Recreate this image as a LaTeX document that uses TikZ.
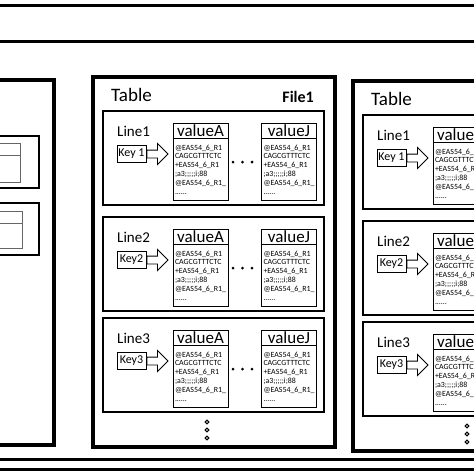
\documentclass[tikz,border=0pt]{standalone}
\usepackage{fontspec}
\setmainfont{Carlito}
\usetikzlibrary{shapes.arrows,positioning,calc}

\newcommand\seqtext{@EAS54\_6\_R1\\CAGCGTTTCTC\\+EAS54\_6\_R1\\;a3;;;;;i;88\\@EAS54\_6\_R1\_\\......}

\tikzset{
  panelbox/.style={draw, line width=3.4pt},
  linebox/.style={draw, line width=2.9pt},
  rulebar/.style={line width=3pt},
  titletext/.style={inner sep=0pt, font=\fontsize{19}{22}\selectfont},
  filetext/.style={inner sep=0pt, font=\fontsize{16}{19}\selectfont\bfseries},
  linelabel/.style={inner sep=0pt, font=\fontsize{15}{18}\selectfont},
  keybox/.style={draw, line width=0.9pt, minimum width=29pt, minimum height=17pt, inner sep=0pt, font=\fontsize{12}{14}\selectfont},
  blockarrow/.style={single arrow, draw, line width=0.9pt, minimum height=21pt, inner sep=3.5pt, single arrow head extend=6.5pt, anchor=west},
  headcell/.style={draw, line width=0.7pt, minimum width=55pt, minimum height=15pt, inner sep=0pt, font=\fontsize{17}{19}\selectfont},
  bodycell/.style={draw, line width=0.7pt, anchor=north, minimum width=55pt, minimum height=62pt, inner xsep=2pt, inner ysep=1pt, text width=51pt, align=left, font=\fontsize{7.9}{8.9}\selectfont},
  thintable/.style={draw=black!60, line width=1pt}
}

\begin{document}
\begin{tikzpicture}[x=1pt, y=-1pt]
  \useasboundingbox (0,0) rectangle (474,474);
  \clip (0,0) rectangle (474,474);

  % rules of the outer frame
  \draw[rulebar] (-10,5) -- (484,5);
  \draw[rulebar] (-10,41) -- (484,41);
  \draw[rulebar] (-10,459) -- (484,459);
  \draw[rulebar] (-10,469) -- (484,469);

  % panel cut at the left edge
  \draw[panelbox] (-40,80) rectangle (54,445);
  \draw[linebox, line width=2.5pt] (-30,136) rectangle (39,188);
  \draw[linebox, line width=2.5pt] (-30,203) rectangle (39,255);
  \draw[thintable] (-30,143) rectangle (20,182);
  \draw[thintable] (-30,155) -- (20,155);
  \draw[thintable] (-30,211) rectangle (22,248);
  \draw[thintable] (-30,223) -- (22,223);

  % the two table panels
  \foreach \p/\dx/\dy in {m/0/0, r/260/4} {
    \begin{scope}[shift={(\dx,\dy)}]
      \draw[panelbox] (93,77) rectangle (335,447);
      \node[titletext, anchor=west] (\p-title) at (111,95) {Table};

      \foreach \i/\top/\kname in {1/111/Key 1, 2/217/Key2, 3/318/Key3} {
        \draw[linebox] (103,\top) rectangle (324,{\top+94});
        \node[linelabel, anchor=west] (\p-line\i) at (117,{\top+20}) {Line\i};
        \node[keybox] (\p-key\i) at (131.5,{\top+43}) {\kname};
        \node[blockarrow] (\p-arrow\i) at (\p-key\i.east) {};
        \node[headcell] (\p-headA\i) at (200.5,{\top+19.5}) {valueA};
        \node[bodycell] (\p-bodyA\i) at (\p-headA\i.south) {\seqtext};
        \node[headcell] (\p-headJ\i) at (289,{\top+19.5}) {valueJ};
        \node[bodycell] (\p-bodyJ\i) at (\p-headJ\i.south) {\seqtext};
        \foreach \d in {0,1,2}
          \fill ({233+9.5*\d},{\top+51}) circle (1.5);
      }

      \foreach \d in {0,1,2}
        \draw[line width=1.1pt] (207,{422+8*\d}) circle (1.8);
    \end{scope}
  }

  \node[filetext, anchor=east] (file1) at (314,97) {File1};
\end{tikzpicture}
\end{document}
